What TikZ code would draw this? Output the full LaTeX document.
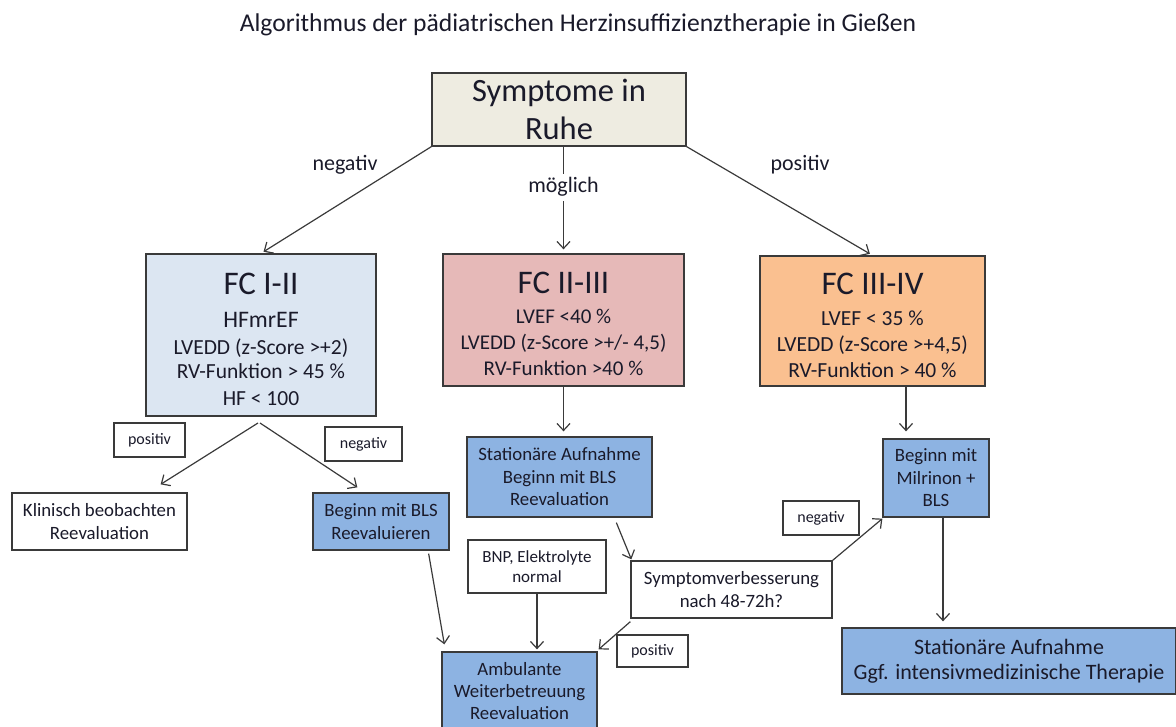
\documentclass[tikz,border=0pt]{standalone}
\usepackage{fontspec}
\setmainfont{Carlito}
\usetikzlibrary{arrows.meta,calc}
\definecolor{beige}{HTML}{EEECE1}
\definecolor{lblue}{HTML}{DCE6F2}
\definecolor{pinkc}{HTML}{E6B9B8}
\definecolor{orangec}{HTML}{FAC090}
\definecolor{bluec}{HTML}{8DB3E2}
\definecolor{linec}{HTML}{3A3A3A}
\definecolor{txt}{HTML}{1A1A2A}
\newcommand{\hdline}[1]{{\fontsize{33}{33}\selectfont\rule{0pt}{30pt}#1}}
\tikzset{
  box/.style={draw=linec, line width=1.3pt, align=center, inner sep=1pt, text=txt},
  lbl/.style={draw=linec, line width=1.1pt, align=center, inner sep=1pt, text=txt, font=\fontsize{16}{18}\selectfont},
  plain/.style={text=txt, inner sep=1pt, font=\fontsize{22}{24}\selectfont},
  arr/.style={draw=linec, line width=1.2pt, -{Straight Barb[length=7pt,width=13pt,line width=1.2pt]}},
  sm/.style={font=\fontsize{18.8}{22.5}\selectfont}
}
\begin{document}
\begin{tikzpicture}[x=1pt,y=-1pt]
\useasboundingbox (0,0) rectangle (1176,727);
\node[text=txt, font=\fontsize{25.6}{28}\selectfont] (title) at (578,25) {Algorithmus der pädiatrischen Herzinsuffizienztherapie in Gießen};

\node[box, fill=beige, minimum width=254pt, minimum height=73pt, font=\fontsize{32.5}{38}\selectfont] (sym) at (559,109.5) {Symptome in\\Ruhe};

\node[box, fill=lblue, minimum width=230pt, minimum height=162pt, font=\fontsize{21.5}{26}\selectfont] (fc1) at (261,335)
  {\hdline{FC I-II}\\[7pt] {\fontsize{23.7}{26}\selectfont HFmrEF}\\[1pt] LVEDD (z-Score >+2)\\[-2pt] RV-Funktion > 45 \%\\[1pt] HF < 100};
\node[box, fill=pinkc, minimum width=241pt, minimum height=132pt, font=\fontsize{21}{26}\selectfont] (fc2) at (563.5,320)
  {\hdline{FC II-III}\\[4pt] LVEF <40 \%\\ LVEDD (z-Score >+/- 4,5)\\ RV-Funktion >40 \%};
\node[box, fill=orangec, minimum width=225pt, minimum height=130pt, font=\fontsize{21.5}{26}\selectfont] (fc3) at (872.5,321)
  {\hdline{FC III-IV}\\[5pt] LVEF < 35 \%\\ LVEDD (z-Score >+4,5)\\ RV-Funktion > 40 \%};

\node[plain] (lneg) at (345,165) {negativ};
\node[plain] (lpos) at (800,165) {positiv};

\draw[arr, shorten >=3pt] (sym.south west) -- (fc1.north);
\draw[arr, shorten >=3pt] (sym.south east) -- (fc3.north);
\draw[arr, shorten >=4pt] (fc2.north |- sym.south) -- node[plain, fill=white, pos=0.38, inner ysep=4pt] (lmog) {möglich} (fc2.north);

\coordinate (split) at (258,423);
\node[lbl, minimum width=71pt, minimum height=34pt] (lpos1) at (149.5,440) {positiv};
\node[lbl, minimum width=77pt, minimum height=34pt] (lneg1) at (363.5,444) {negativ};
\node[box, fill=white, minimum width=175pt, minimum height=57pt, sm] (klin) at (99.5,521.5) {Klinisch beobachten\\Reevaluation};
\node[box, fill=bluec, minimum width=136pt, minimum height=57pt, sm] (bls) at (381,521.5) {Beginn mit BLS\\Reevaluieren};
\draw[arr] (split) -- ($(klin.north east)+(-27,-8)$);
\draw[arr] ($(split)+(2,0)$) -- ($(bls.north west)+(45,-5)$);

\node[box, fill=bluec, minimum width=185pt, minimum height=80pt, sm] (stat) at (559.5,477) {Stationäre Aufnahme\\Beginn mit BLS\\Reevaluation};
\node[box, fill=white, minimum width=138pt, minimum height=53pt, font=\fontsize{17}{20}\selectfont] (bnp) at (537,566.5) {BNP, Elektrolyte\\normal};
\node[box, fill=white, minimum width=201pt, minimum height=57pt, sm] (symp) at (731.5,589.5) {Symptomverbesserung\\nach 48-72h?};
\node[lbl, minimum width=71pt, minimum height=32pt] (lpos2) at (652.5,651) {positiv};
\node[lbl, minimum width=76pt, minimum height=34pt] (lneg2) at (821,518) {negativ};
\node[box, fill=bluec, minimum width=106pt, minimum height=78pt, sm] (mil) at (936,478) {Beginn mit\\Milrinon +\\BLS};
\node[box, fill=bluec, minimum width=334pt, minimum height=66pt, font=\fontsize{22}{25}\selectfont] (ggf) at (1009,661) {Stationäre Aufnahme\\Ggf. intensivmedizinische Therapie};
\node[box, fill=bluec, minimum width=155pt, minimum height=78pt, font=\fontsize{18.8}{22}\selectfont] (amb) at (519.5,691) {Ambulante\\Weiterbetreuung\\Reevaluation};

\coordinate (m1) at ($(mil.south)+(7,0)$);
\coordinate (f3) at ($(fc3.south)+(33.5,0)$);
\draw[arr, shorten >=5pt] (fc2.south) -- (fc2.south |- stat.north);
\draw[arr] ($(bls.south east)+(-21,3)$) -- ($(amb.north west)+(3,-7)$);
\draw[arr] ($(stat.south west)+(150,5)$) -- ($(symp.north west)+(1,-1)$);
\draw[arr, shorten >=2pt] (bnp.south) -- (bnp.south |- amb.north);
\draw[arr] ($(symp.south west)+(0,3)$) -- ($(amb.north east)+(1,-2)$);
\draw[arr] (symp.north east) -- ($(mil.south west)+(0,1)$);
\draw[arr, shorten >=7pt] (f3) -- (f3 |- mil.north);
\draw[arr, shorten >=6pt] (m1) -- (m1 |- ggf.north);
\end{tikzpicture}
\end{document}
